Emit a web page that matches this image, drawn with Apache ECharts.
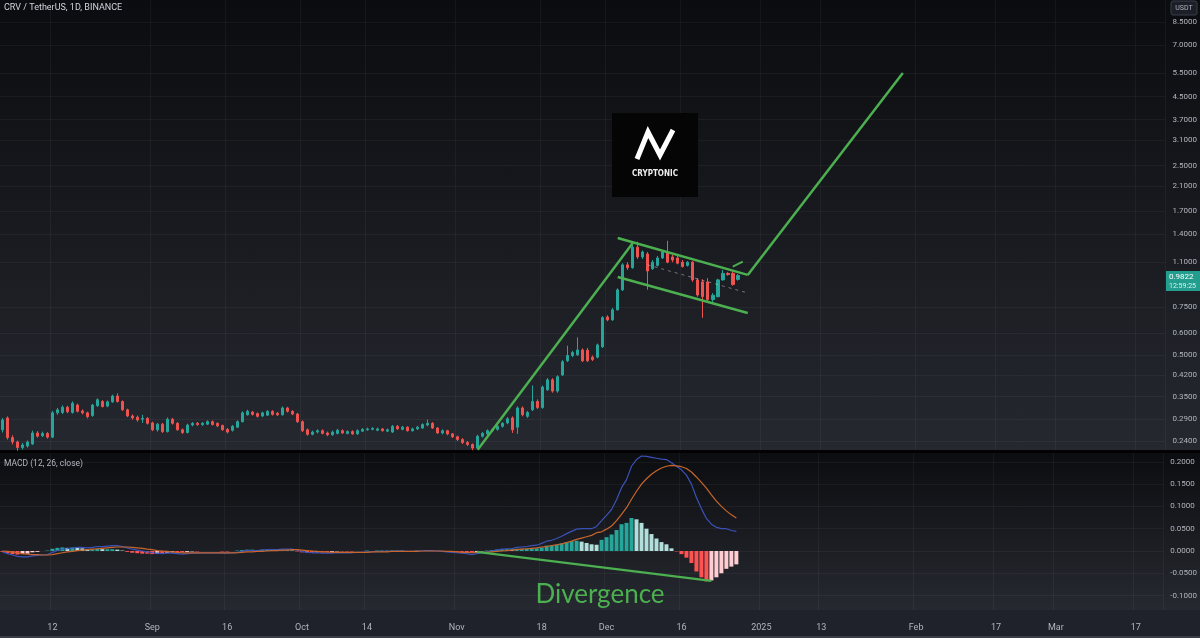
<!DOCTYPE html>
<html><head><meta charset="utf-8">
<script src="https://cdn.jsdelivr.net/npm/echarts@6/dist/echarts.min.js"></script>
<style>
html,body{margin:0;padding:0;background:#131722;overflow:hidden;}
#c{width:1200px;height:638px;background:linear-gradient(to bottom,#0b0c0f 0px,#25282f 450px,#030304 450px,#030304 453px,#0c0d10 453px,#262930 610px,#1f222a 610px,#1f222a 636px,#3a3d45 636px,#3a3d45 638px);}
</style></head>
<body><div id="c"></div>
<script>
// ---------- data ----------
const firstDay = '2024-08-02';
const lastDay = '2025-03-22';
const tickDates = ['2024-08-12','2024-09-01','2024-09-16','2024-10-01','2024-10-14','2024-11-01','2024-11-18','2024-12-01','2024-12-16','2025-01-01','2025-01-13','2025-02-01','2025-02-17','2025-03-01','2025-03-17'];
const tickTexts = ['12','Sep','16','Oct','14','Nov','18','Dec','16','2025','13','Feb','17','Mar','17'];
const priceTicks = [0.24,0.29,0.35,0.42,0.5,0.6,0.75,1.1,1.4,1.7,2.1,2.5,3.1,3.7,4.5,5.5,7,8.5];
const macdTicks = [-0.1,-0.05,0,0.05,0.1,0.15,0.2];

const opens = [0.264,0.292,0.247,0.238,0.227,0.230,0.234,0.257,0.251,0.256,
0.248,0.305,0.306,0.320,0.306,0.326,0.310,0.305,0.298,0.324,
0.336,0.323,0.335,0.352,0.336,0.313,0.297,0.294,0.289,0.291,
0.280,0.264,0.277,0.260,0.289,0.279,0.264,0.258,0.275,0.279,
0.276,0.277,0.283,0.279,0.274,0.265,0.263,0.270,0.283,0.300,
0.307,0.303,0.297,0.299,0.309,0.304,0.300,0.318,0.309,0.302,
0.283,0.264,0.254,0.259,0.262,0.257,0.253,0.256,0.262,0.256,
0.260,0.255,0.261,0.264,0.265,0.263,0.266,0.261,0.259,0.272,
0.265,0.270,0.262,0.266,0.268,0.275,0.279,0.268,0.257,0.262,
0.255,0.249,0.243,0.237,0.233,0.226,0.250,0.255,0.262,0.265,
0.272,0.280,0.292,0.270,0.318,0.296,0.313,0.336,0.319,0.371,
0.404,0.367,0.421,0.475,0.497,0.500,0.521,0.520,0.490,0.490,
0.535,0.690,0.673,0.733,0.869,1.075,1.050,1.250,1.150,1.180,
1.040,1.070,1.140,1.200,1.150,1.140,1.100,1.070,1.100,0.946,
0.930,0.930,0.800,0.820,0.946,1.000,1.000,0.950];
const closes = [0.287,0.247,0.238,0.227,0.232,0.238,0.257,0.250,0.256,0.248,
0.305,0.313,0.320,0.308,0.331,0.309,0.305,0.295,0.326,0.341,
0.322,0.335,0.352,0.336,0.313,0.297,0.292,0.287,0.291,0.279,
0.264,0.277,0.260,0.289,0.279,0.264,0.258,0.275,0.279,0.276,
0.279,0.283,0.276,0.273,0.264,0.259,0.272,0.283,0.305,0.309,
0.301,0.296,0.305,0.309,0.301,0.300,0.318,0.309,0.302,0.283,
0.262,0.254,0.259,0.262,0.256,0.253,0.259,0.263,0.257,0.260,
0.255,0.262,0.265,0.266,0.267,0.266,0.262,0.264,0.272,0.266,
0.270,0.262,0.266,0.270,0.276,0.279,0.268,0.257,0.262,0.255,
0.249,0.243,0.237,0.233,0.226,0.250,0.256,0.262,0.265,0.272,
0.279,0.290,0.264,0.318,0.300,0.306,0.336,0.319,0.380,0.404,
0.367,0.415,0.471,0.497,0.510,0.521,0.475,0.475,0.480,0.544,
0.686,0.673,0.733,0.869,1.075,1.050,1.250,1.150,1.200,1.020,
1.100,1.140,1.200,1.100,1.120,1.090,1.060,1.100,0.946,0.832,
0.820,0.800,0.830,0.946,1.000,0.990,0.910,0.982];
const lows = [0.258,0.243,0.233,0.221,0.223,0.227,0.232,0.247,0.248,0.245,
0.246,0.300,0.302,0.304,0.303,0.306,0.301,0.291,0.295,0.321,
0.319,0.320,0.332,0.333,0.310,0.294,0.288,0.283,0.280,0.276,
0.261,0.260,0.257,0.258,0.276,0.262,0.255,0.256,0.272,0.273,
0.273,0.275,0.274,0.270,0.262,0.256,0.260,0.268,0.281,0.298,
0.298,0.293,0.294,0.297,0.298,0.297,0.298,0.306,0.299,0.280,
0.259,0.251,0.252,0.256,0.254,0.250,0.251,0.254,0.255,0.254,
0.253,0.253,0.259,0.262,0.263,0.261,0.260,0.259,0.257,0.264,
0.263,0.260,0.260,0.264,0.266,0.272,0.266,0.255,0.254,0.252,
0.246,0.240,0.234,0.230,0.222,0.224,0.247,0.252,0.259,0.262,
0.269,0.277,0.257,0.255,0.296,0.292,0.310,0.315,0.316,0.368,
0.362,0.362,0.418,0.470,0.490,0.495,0.470,0.470,0.474,0.485,
0.530,0.665,0.668,0.728,0.860,1.030,1.040,1.130,1.130,0.870,
1.030,1.060,1.130,1.090,1.100,1.080,1.050,1.060,0.930,0.820,
0.685,0.790,0.785,0.815,0.940,0.980,0.900,0.940];
const highs = [0.292,0.296,0.252,0.241,0.236,0.241,0.262,0.261,0.260,0.259,
0.310,0.318,0.325,0.324,0.336,0.330,0.314,0.308,0.329,0.345,
0.340,0.339,0.356,0.360,0.339,0.316,0.301,0.298,0.300,0.294,
0.283,0.280,0.280,0.293,0.292,0.282,0.267,0.278,0.282,0.282,
0.282,0.286,0.286,0.281,0.276,0.268,0.275,0.286,0.309,0.313,
0.310,0.306,0.308,0.312,0.312,0.307,0.322,0.321,0.312,0.305,
0.286,0.267,0.262,0.265,0.265,0.260,0.262,0.266,0.265,0.263,
0.263,0.265,0.268,0.269,0.270,0.269,0.268,0.267,0.275,0.275,
0.273,0.272,0.269,0.273,0.279,0.288,0.282,0.270,0.265,0.264,
0.257,0.251,0.246,0.240,0.235,0.253,0.259,0.265,0.268,0.275,
0.282,0.294,0.296,0.322,0.322,0.310,0.385,0.342,0.385,0.410,
0.410,0.420,0.478,0.540,0.517,0.580,0.528,0.530,0.497,0.550,
0.695,0.700,0.745,0.880,1.090,1.100,1.300,1.310,1.215,1.200,
1.120,1.160,1.220,1.320,1.170,1.160,1.120,1.110,1.110,0.960,
0.950,0.960,0.845,0.955,1.030,1.010,1.020,0.995];

const macdLine = [-0.002,-0.006,-0.009,-0.012,-0.013,-0.013,-0.011,-0.010,-0.009,-0.008,
-0.003,0.001,0.004,0.005,0.007,0.008,0.008,0.007,0.008,0.010,
0.010,0.011,0.012,0.012,0.010,0.007,0.004,0.002,0.000,-0.002,
-0.004,-0.005,-0.006,-0.005,-0.005,-0.006,-0.007,-0.006,-0.005,-0.005,
-0.004,-0.004,-0.004,-0.004,-0.005,-0.005,-0.004,-0.003,-0.001,0.001,
0.001,0.001,0.002,0.003,0.003,0.003,0.004,0.004,0.004,0.002,
-0.001,-0.003,-0.004,-0.004,-0.005,-0.005,-0.005,-0.004,-0.004,-0.004,
-0.004,-0.003,-0.003,-0.002,-0.002,-0.001,-0.001,-0.001,0.000,0.000,
0.000,-0.001,-0.001,0.000,0.000,0.001,0.001,0.000,-0.001,-0.002,
-0.003,-0.004,-0.005,-0.006,-0.008,-0.006,-0.004,-0.002,0.000,0.002,
0.004,0.005,0.005,0.008,0.009,0.010,0.012,0.013,0.017,0.022,
0.024,0.028,0.033,0.039,0.044,0.049,0.050,0.050,0.050,0.055,
0.068,0.080,0.093,0.115,0.142,0.160,0.190,0.205,0.213,0.212,
0.210,0.208,0.206,0.205,0.198,0.190,0.182,0.170,0.150,0.120,
0.095,0.073,0.060,0.053,0.050,0.050,0.046,0.044];
const signalLine = [0.000,-0.001,-0.002,-0.004,-0.006,-0.007,-0.008,-0.008,-0.009,-0.009,
-0.008,-0.006,-0.004,-0.002,-0.001,0.001,0.002,0.003,0.004,0.005,
0.006,0.007,0.008,0.009,0.009,0.009,0.008,0.007,0.006,0.004,
0.003,0.001,0.000,-0.001,-0.002,-0.003,-0.004,-0.004,-0.004,-0.004,
-0.004,-0.004,-0.004,-0.004,-0.004,-0.004,-0.004,-0.004,-0.003,-0.002,
-0.002,-0.001,-0.001,0.000,0.001,0.001,0.002,0.002,0.003,0.003,
0.002,0.001,0.000,-0.001,-0.002,-0.002,-0.003,-0.003,-0.003,-0.003,
-0.003,-0.003,-0.003,-0.003,-0.002,-0.002,-0.002,-0.002,-0.001,-0.001,
-0.001,-0.001,-0.001,-0.001,0.000,0.000,0.000,0.000,0.000,-0.001,
-0.001,-0.002,-0.003,-0.003,-0.004,-0.003,-0.003,-0.003,-0.002,-0.001,
0.000,0.001,0.002,0.003,0.004,0.005,0.006,0.007,0.009,0.010,
0.012,0.014,0.016,0.019,0.022,0.026,0.029,0.032,0.035,0.041,
0.043,0.049,0.056,0.068,0.082,0.097,0.116,0.134,0.150,0.162,
0.172,0.180,0.186,0.190,0.192,0.191,0.189,0.185,0.177,0.166,
0.154,0.141,0.126,0.112,0.100,0.090,0.081,0.074];
const histogram = [-0.002,-0.005,-0.007,-0.008,-0.007,-0.006,-0.003,-0.002,0.000,0.001,
0.005,0.007,0.008,0.007,0.008,0.007,0.006,0.004,0.004,0.005,
0.004,0.004,0.004,0.003,0.001,-0.002,-0.004,-0.005,-0.006,-0.006,
-0.007,-0.006,-0.006,-0.004,-0.003,-0.003,-0.003,-0.002,-0.001,-0.001,
0.000,0.000,0.000,0.000,-0.001,-0.001,0.000,0.001,0.002,0.003,
0.003,0.002,0.003,0.003,0.002,0.002,0.002,0.002,0.001,-0.001,
-0.003,-0.004,-0.004,-0.003,-0.003,-0.003,-0.002,-0.001,-0.001,-0.001,
-0.001,0.000,0.000,0.001,0.000,0.001,0.001,0.001,0.001,0.001,
0.001,0.000,0.000,0.001,0.000,0.001,0.001,0.000,-0.001,-0.001,
-0.002,-0.002,-0.002,-0.003,-0.004,-0.003,-0.001,0.001,0.002,0.003,
0.004,0.004,0.003,0.005,0.005,0.005,0.006,0.006,0.008,0.012,
0.012,0.014,0.017,0.020,0.022,0.023,0.021,0.018,0.015,0.014,
0.025,0.031,0.037,0.047,0.060,0.063,0.074,0.071,0.063,0.050,
0.038,0.028,0.020,0.015,0.006,-0.001,-0.007,-0.015,-0.027,-0.046,
-0.059,-0.068,-0.066,-0.059,-0.050,-0.040,-0.035,-0.030];

// drawn annotations [date, value]
const riseLine = [['2024-11-05',0.223],['2024-12-06',1.296]];
const flagTop = [['2024-12-03',1.352],['2024-12-29',0.987]];
const flagBottom = [['2024-12-03',0.970],['2024-12-29',0.714]];
const breakoutLine = [['2024-12-29',0.987],['2025-01-29',5.507]];
const flagMid = [['2024-12-09',1.075],['2024-12-29',0.846]];
const smallArrow = [['2024-12-26',1.060],['2024-12-28',1.105]];
const divergenceLine = [['2024-11-05',-0.002],['2024-12-22',-0.067]];
const lastPrice = '0.9822';
const countdown = '12:59:25';

// ---------- build ----------
const days = [];
for (let t = Date.parse(firstDay); t <= Date.parse(lastDay); t += 86400000) days.push(new Date(t).toISOString().slice(0,10));
const tickIdx = new Set(tickDates.map(d => days.indexOf(d)));
const isTick = (i) => tickIdx.has(i);
const ohlc = opens.map((o,i) => [o, closes[i], lows[i], highs[i]]);
const histItems = histogram.map((v,i) => {
  const p = i > 0 ? histogram[i-1] : 0;
  const c = v >= 0 ? (v >= p ? '#26a69a' : '#b2dfdb') : (v <= p ? '#ff5252' : '#ffcdd2');
  return {value: v, itemStyle: {color: c}};
});
const green = '#4caf50';
const gridLine = 'rgba(255,255,255,0.045)';
const lblColor = '#b2b5be';
const font = 'Roboto, "Liberation Sans", sans-serif';

function annot(data, extra) {
  return Object.assign({type:'line', xAxisIndex:0, yAxisIndex:0, data: data, showSymbol:false, symbol:'none', silent:true, z:6,
    lineStyle:{color: green, width: 2.5}}, extra || {});
}

const chart = echarts.init(document.getElementById('c'), null, {renderer:'canvas'});
chart.setOption({
  animation: false,
  backgroundColor: 'transparent',
  textStyle: {fontFamily: font},
  grid: [
    {left: 0, top: 0, width: 1168, height: 450},
    {left: 0, top: 453, width: 1168, height: 157}
  ],
  xAxis: [
    {type:'category', gridIndex:0, data: days, boundaryGap: true,
     axisLine:{show:false}, axisTick:{show:false}, axisLabel:{show:false},
     splitLine:{show:true, interval: isTick, lineStyle:{color: gridLine}}},
    {type:'category', gridIndex:1, data: days, boundaryGap: true,
     axisLine:{show:false}, axisTick:{show:false},
     axisLabel:{show:true, interval: isTick, color: lblColor, fontSize: 9, margin: 13, fontFamily: font,
       formatter: (v) => { const k = tickDates.indexOf(v); return k >= 0 ? tickTexts[k] : ''; }},
     splitLine:{show:true, interval: isTick, lineStyle:{color: gridLine}}}
  ],
  yAxis: [
    {type:'log', logBase: 10, gridIndex:0, position:'right', min: 0.2223, max: 10.25,
     axisLine:{show:false}, axisTick:{show:false, customValues: priceTicks},
     axisLabel:{customValues: priceTicks, formatter: (v) => Number(v).toFixed(4), color: lblColor, fontSize: 8, margin: 7, align:'left', fontFamily: font},
     splitLine:{show:true, lineStyle:{color: gridLine}}},
    {type:'value', gridIndex:1, position:'right', min: -0.1323, max: 0.2197,
     axisLine:{show:false}, axisTick:{show:false, customValues: macdTicks},
     axisLabel:{customValues: macdTicks, formatter: (v) => Number(v).toFixed(4), color: lblColor, fontSize: 8, margin: 7, align:'left', fontFamily: font},
     splitLine:{show:true, lineStyle:{color: gridLine}}}
  ],
  series: [
    {type:'candlestick', xAxisIndex:0, yAxisIndex:0, data: ohlc, barWidth: 3,
     itemStyle:{color:'#26a69a', color0:'#ef5350', borderColor:'#26a69a', borderColor0:'#ef5350', borderWidth:1}},
    annot(riseLine),
    annot(flagTop),
    annot(flagBottom),
    annot(breakoutLine),
    annot(flagMid, {lineStyle:{color:'rgba(190,190,190,0.55)', width:1, type:[3,4]}, z:5}),
    annot(smallArrow, {symbol:['none','arrow'], showSymbol:true, symbolSize:[7,7], lineStyle:{color: green, width: 2}, itemStyle:{color: green}}),
    {type:'bar', xAxisIndex:1, yAxisIndex:1, data: histItems, barWidth: 4, silent:true},
    {type:'line', xAxisIndex:1, yAxisIndex:1, data: macdLine, showSymbol:false, symbol:'none', silent:true, z:4,
     lineStyle:{color:'#3a52b8', width:1.2}},
    {type:'line', xAxisIndex:1, yAxisIndex:1, data: signalLine, showSymbol:false, symbol:'none', silent:true, z:4,
     lineStyle:{color:'#c8652c', width:1.2}},
    {type:'line', xAxisIndex:1, yAxisIndex:1, data: divergenceLine, showSymbol:false, symbol:'none', silent:true, z:6,
     lineStyle:{color: green, width: 2.5}}
  ],
  graphic: [
    {type:'text', left: 4, top: 3, z: 100, style:{text:'CRV / TetherUS, 1D, BINANCE', fill:'#d1d4dc', font:'9px ' + font}},
    {type:'text', left: 4, top: 459, z: 100, style:{text:'MACD (12, 26, close)', fill:lblColor, font:'8.5px ' + font}},
    {type:'rect', z: 100, shape:{x:1171, y:1, width:26, height:14, r:2}, style:{fill:'#1c1f27', stroke:'#3a3e48', lineWidth:1}},
    {type:'text', z: 101, x: 1184, y: 8, style:{text:'USDT', fill:lblColor, font:'7px ' + font, align:'center', verticalAlign:'middle'}},
    {type:'rect', z: 100, shape:{x:1166, y:271, width:34, height:20}, style:{fill:'#229d8e'}},
    {type:'text', z: 101, x: 1169, y: 277, style:{text:lastPrice, fill:'#ffffff', font:'8px ' + font, align:'left', verticalAlign:'middle'}},
    {type:'text', z: 101, x: 1169, y: 286, style:{text:countdown, fill:'#d8f3ee', font:'7px ' + font, align:'left', verticalAlign:'middle'}},
    {type:'rect', z: 100, shape:{x:612, y:113, width:86, height:84}, style:{fill:'#050505'}},
    {type:'polyline', z: 101, shape:{points:[[637,159],[648,132],[660,155],[673,130]]}, style:{stroke:'#ffffff', lineWidth:5, fill:null, lineJoin:'miter'}},
    {type:'text', z: 101, x: 655, y: 174, style:{text:'CRYPTONIC', fill:'#eeeeee', font:'bold 8px "DejaVu Sans Condensed", "Liberation Sans Narrow", sans-serif', align:'center', verticalAlign:'middle'}},
    {type:'text', z: 100, x: 600, y: 595, style:{text:'Divergence', fill: green, font:'26px Lato, "Open Sans", sans-serif', align:'center', verticalAlign:'middle'}}
  ]
});
</script></body></html>
